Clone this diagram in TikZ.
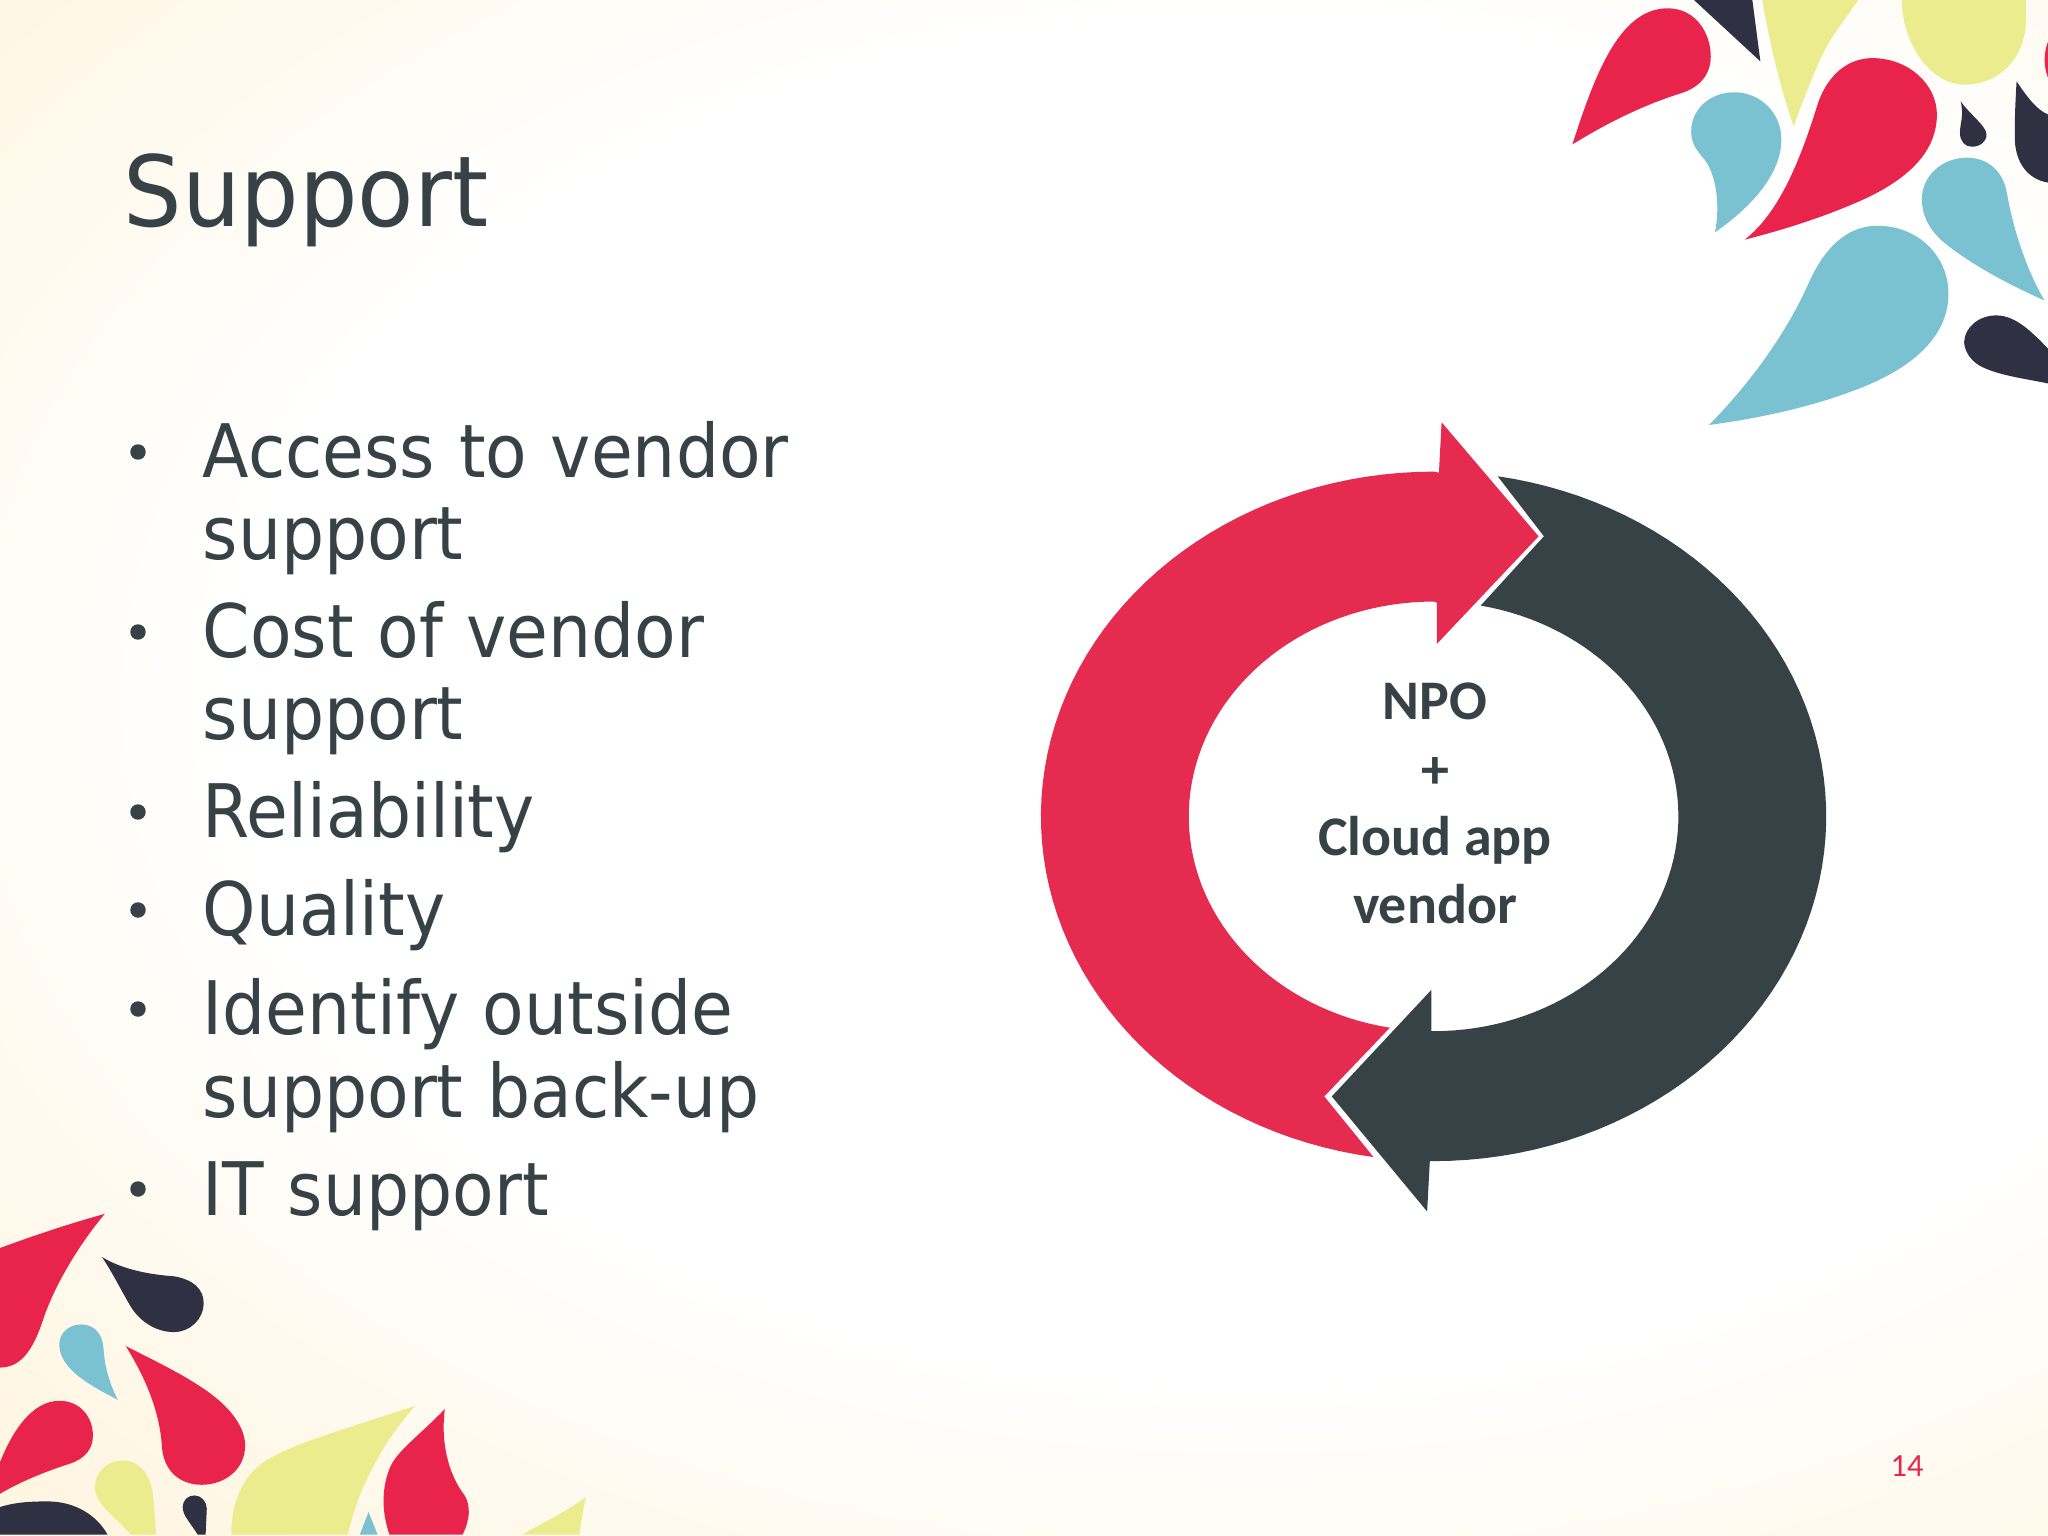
\documentclass[tikz,border=0pt]{standalone}
\usepackage{fontspec}
\setmainfont[FakeStretch=0.94]{DejaVu Sans}
\newfontfamily\itemfont[FakeStretch=0.92,WordSpace=1.1]{DejaVu Sans}
\newfontfamily\calfont{Carlito}
\definecolor{inkdark}{HTML}{374247}
\definecolor{rosered}{HTML}{E62B50}
\definecolor{droprose}{HTML}{E8244C}
\definecolor{dropteal}{HTML}{7AC2D2}
\definecolor{dropnavy}{HTML}{2F3142}
\definecolor{dropyellow}{HTML}{EBEC8E}
\definecolor{bgcream}{HTML}{FFF6E2}
\pgfdeclareradialshading{pagebg}{\pgfpoint{0bp}{0bp}}{color(0bp)=(white); color(17bp)=(white); color(28bp)=(bgcream); color(50bp)=(bgcream)}
\tikzset{
  titletext/.style={anchor=base west, inner sep=0pt, text=inkdark, font=\fontsize{27.9}{30}\selectfont},
  bodytext/.style={anchor=base west, inner sep=0pt, text=inkdark, font=\itemfont\fontsize{21}{24}\selectfont},
  bulletdot/.style={circle, inner sep=0pt, minimum size=4.4pt, fill=inkdark},
  hubtext/.style={anchor=base, inner sep=0pt, text=inkdark, font=\calfont\bfseries\fontsize{15.9}{18}\selectfont},
  pagetext/.style={anchor=base, inner sep=0pt, text=droprose, font=\calfont\fontsize{9.2}{11}\selectfont}
}
\begin{document}
\begin{tikzpicture}[x=0.01cm,y=-0.01cm]
\useasboundingbox (0,0) rectangle (2048,1536);
\begin{scope}
\clip (0,0) rectangle (2048,1536);
\fill[bgcream] (0,0) rectangle (2048,1536);
\fill[shading=pagebg] (-250,-300) rectangle (2750,1700);
\end{scope}

% top right drops
\begin{scope}[shift={(1500,0)},xscale=0.3495,yscale=0.332]
\fill[droprose] (207,435) .. controls (270,230) and (340,25) .. (480,25) .. controls (560,25) and (603,100) .. (603,170) .. controls (603,230) and (565,265) .. (520,280) .. controls (400,320) and (300,375) .. (207,435) -- cycle;
\fill[dropnavy] (555,0) -- (745,185) -- (722,0) -- cycle;
\fill[dropyellow] (750,0) .. controls (770,120) and (800,260) .. (840,380) .. controls (880,270) and (920,150) .. (965,90) -- (1025,0) -- cycle;
\fill[dropyellow] (1150,0) .. controls (1150,130) and (1230,255) .. (1330,255) .. controls (1430,255) and (1505,170) .. (1505,60) -- (1505,0) -- cycle;
\fill[droprose] (1568,125) .. controls (1555,160) and (1555,200) .. (1568,235) -- cycle;
\fill[droprose] (700,722) .. controls (800,640) and (860,480) .. (910,310) .. controls (940,220) and (1000,175) .. (1065,175) .. controls (1170,175) and (1250,255) .. (1250,345) .. controls (1250,480) and (1130,560) .. (1020,610) .. controls (910,660) and (800,695) .. (700,722) -- cycle;
\fill[dropteal] (615,700) .. controls (630,620) and (620,530) .. (585,480) .. controls (560,450) and (547,430) .. (547,395) .. controls (547,330) and (600,278) .. (670,278) .. controls (745,278) and (805,340) .. (805,420) .. controls (805,530) and (710,630) .. (615,700) -- cycle;
\fill[dropnavy] (1318,305) .. controls (1340,340) and (1392,380) .. (1392,405) .. controls (1392,428) and (1372,442) .. (1350,442) .. controls (1330,442) and (1316,425) .. (1316,400) .. controls (1316,370) and (1328,350) .. (1318,305) -- cycle;
\fill[dropnavy] (1478,245) .. controls (1510,295) and (1535,330) .. (1568,345) -- (1568,550) .. controls (1510,540) and (1475,490) .. (1473,420) .. controls (1472,360) and (1475,300) .. (1478,245) -- cycle;
\fill[dropteal] (1558,905) .. controls (1440,850) and (1340,790) .. (1270,730) .. controls (1230,695) and (1207,650) .. (1207,600) .. controls (1207,530) and (1265,475) .. (1335,475) .. controls (1400,475) and (1440,520) .. (1450,580) .. controls (1470,700) and (1510,820) .. (1558,905) -- cycle;
\fill[dropteal] (598,1280) .. controls (720,1150) and (820,1000) .. (880,860) .. controls (925,750) and (990,680) .. (1080,680) .. controls (1195,680) and (1283,770) .. (1283,885) .. controls (1283,1020) and (1170,1110) .. (1040,1165) .. controls (900,1225) and (740,1260) .. (598,1280) -- cycle;
\fill[dropnavy] (1568,1155) .. controls (1500,1140) and (1420,1130) .. (1370,1100) .. controls (1340,1080) and (1328,1050) .. (1328,1030) .. controls (1330,985) and (1370,950) .. (1420,950) .. controls (1480,950) and (1530,1010) .. (1568,1050) -- cycle;
\end{scope}

% bottom left drops
\begin{scope}[shift={(0,1180)},xscale=0.3954,yscale=0.332]
\fill[droprose] (0,205) .. controls (90,165) and (180,130) .. (265,102) .. controls (210,180) and (150,290) .. (115,400) .. controls (95,470) and (70,565) .. (0,565) -- cycle;
\fill[dropnavy] (258,232) .. controls (310,270) and (380,285) .. (440,290) .. controls (490,300) and (515,330) .. (515,370) .. controls (515,420) and (480,458) .. (440,458) .. controls (390,458) and (350,420) .. (330,380) .. controls (310,340) and (285,280) .. (258,232) -- cycle;
\fill[dropteal] (298,662) .. controls (230,620) and (150,570) .. (150,495) .. controls (150,460) and (175,435) .. (205,435) .. controls (240,435) and (260,465) .. (262,510) .. controls (265,570) and (280,620) .. (298,662) -- cycle;
\fill[droprose] (318,500) .. controls (400,550) and (490,600) .. (550,660) .. controls (590,700) and (620,750) .. (620,800) .. controls (620,870) and (570,918) .. (510,918) .. controls (450,918) and (415,870) .. (410,810) .. controls (405,700) and (370,600) .. (318,500) -- cycle;
\fill[droprose] (0,945) -- (0,850) .. controls (30,760) and (80,665) .. (150,665) .. controls (200,665) and (235,710) .. (235,770) .. controls (235,810) and (215,840) .. (175,855) .. controls (110,880) and (50,910) .. (0,945) -- cycle;
\fill[dropyellow] (330,1068) .. controls (300,1020) and (240,980) .. (240,925) .. controls (240,880) and (270,845) .. (310,845) .. controls (360,845) and (385,900) .. (388,960) -- (395,1068) -- cycle;
\fill[dropnavy] (0,985) .. controls (40,970) and (80,968) .. (120,968) .. controls (190,968) and (245,1010) .. (272,1068) -- (0,1068) -- cycle;
\fill[dropnavy] (500,1068) .. controls (480,1030) and (462,1010) .. (462,985) .. controls (462,965) and (475,950) .. (492,950) .. controls (510,950) and (523,970) .. (523,990) -- (520,1068) -- cycle;
\fill[dropyellow] (1050,680) .. controls (900,740) and (750,790) .. (680,840) .. controls (620,880) and (585,960) .. (585,1068) -- (880,1068) .. controls (900,950) and (960,800) .. (1050,680) -- cycle;
\fill[droprose] (1125,690) .. controls (1060,770) and (1000,820) .. (985,870) .. controls (965,930) and (965,1000) .. (985,1068) -- (1170,1068) .. controls (1190,1020) and (1190,980) .. (1175,950) .. controls (1130,880) and (1115,780) .. (1125,690) -- cycle;
\fill[dropteal] (910,1068) -- (932,1000) -- (955,1068) -- cycle;
\fill[dropyellow] (1482,955) .. controls (1430,1000) and (1370,1035) .. (1320,1068) -- (1465,1068) .. controls (1470,1030) and (1475,990) .. (1482,955) -- cycle;
\end{scope}

% cycle arrows
\begin{scope}[shift={(1020,400)},xscale=0.5357,yscale=0.5304]
\fill[rosered] plot[domain=98.8:270,samples=70] ({772+733*cos(\x)},{785+650*sin(\x)}) -- (782,137) -- (787,42) -- (968,257) -- (778,460) -- (778,382) -- plot[domain=270:100.3,samples=70] ({772+457*cos(\x)},{785+405*sin(\x)}) -- (568,1313) -- cycle;
\fill[inkdark] plot[domain=-80.6:90,samples=70] ({772+733*cos(\x)},{785+650*sin(\x)}) -- (765,1435) -- (760,1530) -- (582,1313) -- (768,1112) -- (768,1190) -- plot[domain=90:-78.9,samples=70] ({772+457*cos(\x)},{785+405*sin(\x)}) -- (978,257) -- cycle;
\end{scope}

\node[titletext] (title) at (123,226) {Support};

\node[bulletdot] (dot0) at (138,452) {};
\node[bodytext] (item0) at (202,477) {Access to vendor};
\node[bodytext] (item0b) at (202,559) {support};
\node[bulletdot] (dot1) at (138,632) {};
\node[bodytext] (item1) at (202,657) {Cost of vendor};
\node[bodytext] (item1b) at (202,739) {support};
\node[bulletdot] (dot2) at (138,812) {};
\node[bodytext] (item2) at (202,837) {Reliability};
\node[bulletdot] (dot3) at (138,910) {};
\node[bodytext] (item3) at (202,935) {Quality};
\node[bulletdot] (dot4) at (138,1009) {};
\node[bodytext] (item4) at (202,1034) {Identify outside};
\node[bodytext] (item4b) at (202,1117) {support back-up};
\node[bulletdot] (dot5) at (138,1189) {};
\node[bodytext] (item5) at (202,1215) {IT support};

\node[hubtext] (hub0) at (1435,719) {NPO};
\node[hubtext] (hub1) at (1435,788) {+};
\node[hubtext] (hub2) at (1435,855) {Cloud app};
\node[hubtext] (hub3) at (1435,923) {vendor};

\node[pagetext] (pagenum) at (1907,1476) {14};
\end{tikzpicture}
\end{document}
